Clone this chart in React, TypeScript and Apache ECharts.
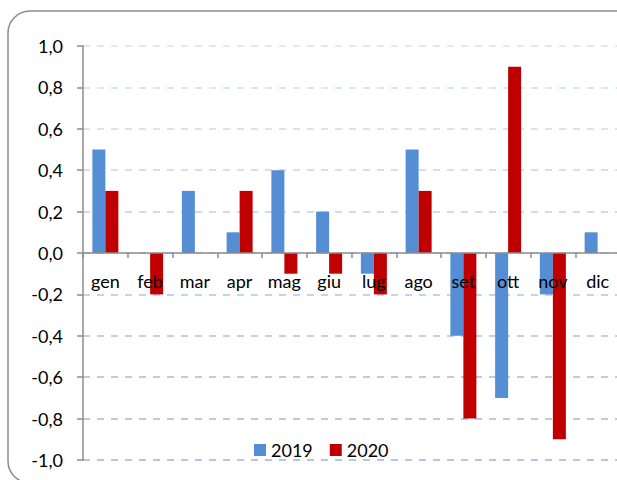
import React, { useEffect, useRef } from "react";
import * as echarts from "echarts";

const categories = ["gen", "feb", "mar", "apr", "mag", "giu", "lug", "ago", "set", "ott", "nov", "dic"];
const values2019 = [0.5, 0, 0.3, 0.1, 0.4, 0.2, -0.1, 0.5, -0.4, -0.7, -0.2, 0.1];
const values2020 = [0.3, -0.2, 0, 0.3, -0.1, -0.1, -0.2, 0.3, -0.8, 0.9, -0.9, 0];
const seriesNames = ["2019", "2020"];
const gridColors = [
  "#9AB4E3", "#9EB8E4", "#A4BCE6", "#AAC1E8", "#B0C6EA", "#B8CBEC",
  "#BFD0EE", "#C6D5F0", "#CCDAF1", "#D2DEF3", "#D7E2F4",
];

const FONT = "Lato, 'Open Sans', sans-serif";
const GRID_TOP = 46;
const GRID_HEIGHT = 414;

export default function App() {
  const ref = useRef<HTMLDivElement>(null);
  useEffect(() => {
    if (!ref.current) return;
    const chart = echarts.init(ref.current, null, { renderer: "svg" });
    chart.setOption({
      animation: false,
      backgroundColor: "#ffffff",
      textStyle: { fontFamily: FONT },
      graphic: [
        {
          type: "rect",
          shape: { x: 8, y: 11, width: 640, height: 472, r: 22 },
          style: { fill: "none", stroke: "#8C8C8C", lineWidth: 1.5 },
          z: 100,
        },
      ],
      legend: {
        left: 254,
        top: 441,
        padding: 0,
        itemWidth: 12,
        itemHeight: 12,
        itemGap: 17,
        icon: "rect",
        textStyle: { fontFamily: FONT, fontSize: 18, color: "#000", padding: [0, 0, 0, 0] },
        data: seriesNames,
      },
      grid: { left: 83, top: GRID_TOP, width: 537, height: GRID_HEIGHT, containLabel: false, outerBoundsMode: "none" },
      xAxis: {
        type: "category",
        data: categories,
        boundaryGap: true,
        position: "bottom",
        offset: -GRID_HEIGHT / 2,
        axisLine: { onZero: false, lineStyle: { color: "#8C8C8C", width: 1.5 } },
        axisTick: { show: true, length: 5, lineStyle: { color: "#8C8C8C", width: 1.5 } },
        axisLabel: { fontFamily: FONT, fontSize: 18, color: "#000", margin: 19, interval: 0 },
        splitLine: { show: false },
        z: 5,
      },
      yAxis: {
        type: "value",
        min: -1,
        max: 1,
        interval: 0.2,
        axisLine: { show: true, lineStyle: { color: "#8C8C8C", width: 1.5 } },
        axisTick: { show: true, length: 6, lineStyle: { color: "#8C8C8C", width: 1.5 } },
        axisLabel: {
          fontFamily: FONT,
          fontSize: 18,
          color: "#000",
          margin: 20,
          formatter: (v: number) => v.toFixed(1).replace(".", ","),
        },
        splitLine: {
          show: true,
          lineStyle: { color: gridColors, type: [7, 7], width: 1.5 },
        },
      },
      series: [
        {
          name: seriesNames[0],
          type: "bar",
          data: values2019,
          barWidth: 13,
          barGap: "0%",
          itemStyle: { color: "#558ED5" },
        },
        {
          name: seriesNames[1],
          type: "bar",
          data: values2020,
          barWidth: 13,
          barGap: "0%",
          itemStyle: { color: "#C00000" },
        },
      ],
    });
    return () => chart.dispose();
  }, []);
  return <div ref={ref} style={{ width: 617, height: 480, position: "absolute", left: 0, top: 0 }} />;
}
